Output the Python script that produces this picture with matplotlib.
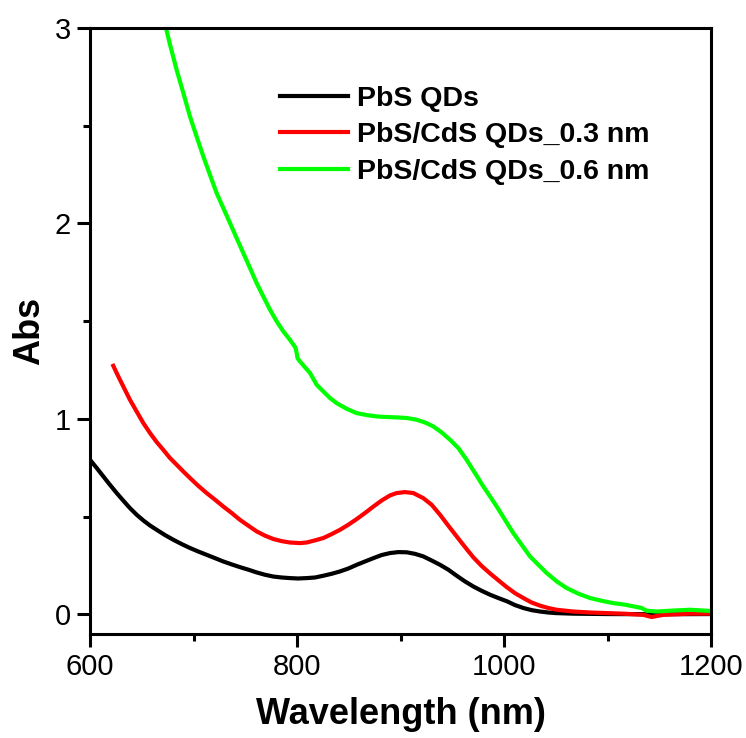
import matplotlib
matplotlib.use("Agg")
import matplotlib.pyplot as plt
from matplotlib.ticker import MultipleLocator

plt.rcParams['font.family'] = ['Liberation Sans', 'DejaVu Sans']

# PbS QDs (black)
wl_pbs = [600, 606.5, 612.9, 619.3, 625.8, 632.2, 638.6, 645.1, 651.5, 658,
          664.4, 672.5, 680.5, 688.6, 696.6, 704.6, 712.7, 720.8, 728.8, 736.9,
          744.9, 753, 761, 769.1, 777.1, 785.2, 793.2, 801, 809.3, 817.4,
          825.4, 833.5, 841.5, 849.6, 857.7, 865.7, 873.8, 881.8, 889.9, 897.9,
          906, 914, 922, 930.1, 938.2, 946.2, 954.3, 962.3, 970.4, 978.4,
          986.5, 994.5, 1003, 1010.6, 1018.7, 1026.7, 1034.8, 1042.8, 1050, 1067,
          1100, 1150, 1200]
abs_pbs = [0.791, 0.749, 0.706, 0.663, 0.621, 0.582, 0.544, 0.510, 0.481, 0.455,
           0.433, 0.406, 0.382, 0.360, 0.340, 0.322, 0.305, 0.288, 0.271, 0.256,
           0.242, 0.229, 0.215, 0.203, 0.194, 0.189, 0.186, 0.184, 0.186, 0.189,
           0.198, 0.208, 0.220, 0.235, 0.254, 0.271, 0.288, 0.304, 0.314, 0.319,
           0.318, 0.310, 0.297, 0.276, 0.254, 0.229, 0.198, 0.169, 0.143, 0.121,
           0.101, 0.084, 0.067, 0.048, 0.033, 0.022, 0.015, 0.010, 0.007, 0.004,
           0.002, 0.001, 0.002]

# PbS/CdS QDs_0.3 nm (red)
wl_03 = [622.5, 627.4, 632.2, 638.6, 645.1, 651.5, 658, 664.4, 670.8, 677.3,
         683.7, 690.2, 696.6, 704.6, 712.7, 720.8, 728.8, 736.9, 744.9, 753,
         761, 769.1, 777.1, 785.2, 793.2, 803, 809.3, 817.4, 825.4, 833.5,
         841.5, 849.6, 857.7, 865.7, 873.8, 881.8, 889.9, 896.3, 904.3, 912.4,
         922, 930.1, 938.2, 946.2, 954.3, 962.3, 970.4, 978.4, 986.5, 994.5,
         1002.6, 1010.6, 1018.7, 1026.7, 1034.8, 1042.8, 1050.9, 1067, 1083.1, 1115.3,
         1134.6, 1142.6, 1153.9, 1179.7, 1200]
abs_03 = [1.272, 1.217, 1.166, 1.098, 1.038, 0.979, 0.928, 0.882, 0.842, 0.800,
          0.766, 0.731, 0.698, 0.658, 0.621, 0.587, 0.552, 0.519, 0.484, 0.454,
          0.425, 0.403, 0.386, 0.375, 0.368, 0.365, 0.368, 0.379, 0.391, 0.411,
          0.433, 0.459, 0.488, 0.519, 0.552, 0.583, 0.609, 0.621, 0.626, 0.621,
          0.595, 0.561, 0.510, 0.454, 0.399, 0.345, 0.292, 0.248, 0.210, 0.175,
          0.140, 0.109, 0.084, 0.061, 0.045, 0.033, 0.024, 0.015, 0.010, 0.004,
          -0.002, -0.013, -0.002, 0.004, 0.004]

# PbS/CdS QDs_0.6 nm (green)
wl_06 = [673.4, 677.3, 683.7, 690.2, 696.6, 703, 709.5, 715.9, 722.4, 728.8,
         735.3, 741.7, 748.1, 754.6, 761, 767.4, 773.9, 780.4, 786.8, 793.2,
         798.5, 799.7, 800.5, 802.9, 812.6, 819, 825.4, 831.9, 838.3, 848,
         857.6, 867.3, 877, 886.6, 896.3, 906, 915.6, 923.7, 931.7, 939.8,
         947.8, 955.9, 963.9, 972, 980, 986.5, 993, 1009, 1017, 1025.1,
         1033.2, 1041.2, 1051, 1060.5, 1072, 1083.1, 1094.3, 1105.6, 1116.9, 1128.2,
         1133, 1137.8, 1147.5, 1163.6, 1179.7, 1195.8, 1200]
abs_06 = [3.0, 2.915, 2.786, 2.667, 2.547, 2.445, 2.343, 2.249, 2.155, 2.079,
          2.002, 1.925, 1.849, 1.772, 1.695, 1.627, 1.559, 1.499, 1.448, 1.405,
          1.365, 1.337, 1.311, 1.294, 1.235, 1.175, 1.141, 1.107, 1.081, 1.052,
          1.030, 1.020, 1.013, 1.010, 1.008, 1.005, 0.996, 0.982, 0.962, 0.931,
          0.894, 0.851, 0.791, 0.723, 0.655, 0.604, 0.552, 0.416, 0.357, 0.297,
          0.254, 0.212, 0.169, 0.135, 0.106, 0.084, 0.070, 0.058, 0.050, 0.038,
          0.033, 0.019, 0.015, 0.020, 0.024, 0.019, 0.018]

labels = ["PbS QDs", "PbS/CdS QDs_0.3 nm", "PbS/CdS QDs_0.6 nm"]
colors = ["black", "#ff0000", "#00ff00"]

fig = plt.figure(figsize=(7.46, 7.38), dpi=100)
ax = fig.add_axes([90/746, 1 - 634/738, 621/746, 606/738])

ax.plot(wl_pbs, abs_pbs, color=colors[0], lw=3, label=labels[0], solid_joinstyle='round')
ax.plot(wl_03, abs_03, color=colors[1], lw=3, label=labels[1], solid_joinstyle='round')
ax.plot(wl_06, abs_06, color=colors[2], lw=3, label=labels[2], solid_joinstyle='round')

ax.set_xlim(600, 1200)
ax.set_ylim(-0.1, 3)
ax.xaxis.set_major_locator(MultipleLocator(200))
ax.xaxis.set_minor_locator(MultipleLocator(100))
ax.yaxis.set_major_locator(MultipleLocator(1))
ax.yaxis.set_minor_locator(MultipleLocator(0.5))

for s in ax.spines.values():
    s.set_linewidth(2.2)
ax.tick_params(which='major', direction='out', length=9.5, width=2.2,
               labelsize=21, pad=4, top=False, right=False)
ax.tick_params(which='minor', direction='out', length=5, width=2.2,
               top=False, right=False)

ax.set_xlabel("Wavelength (nm)", fontsize=26, fontweight='bold', labelpad=12)
ax.set_ylabel("Abs", fontsize=26, fontweight='bold', labelpad=6)

leg = ax.legend(loc='upper left', bbox_to_anchor=(0.306, 0.905), frameon=False,
                prop={'weight': 'bold', 'size': 20.5},
                handlelength=2.4, handletextpad=0.32, labelspacing=0.38,
                borderpad=0, borderaxespad=0)

fig.savefig("out.png", dpi=100)
